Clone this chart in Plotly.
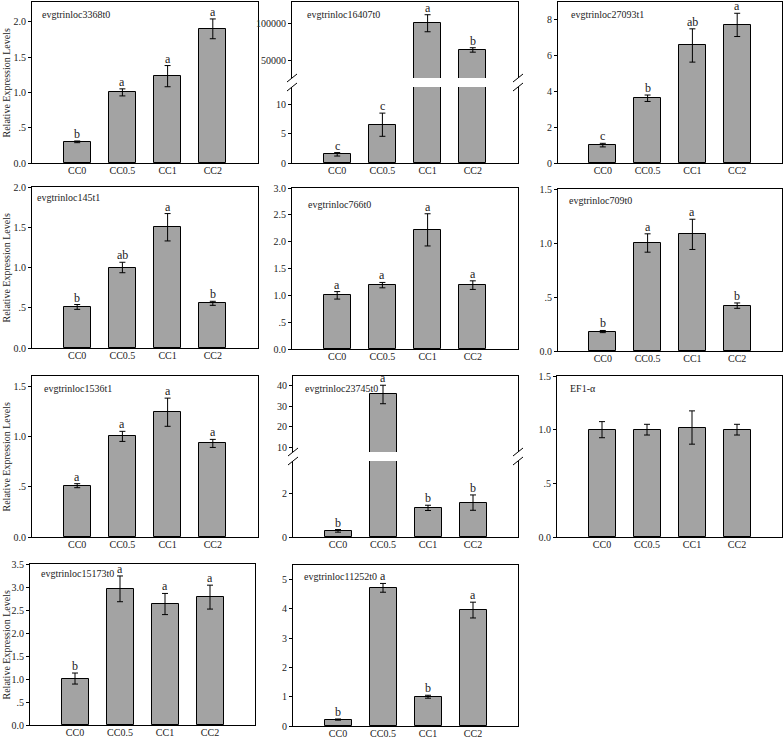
import plotly.graph_objects as go

# ---------------- data ----------------
categories = ["CC0", "CC0.5", "CC1", "CC2"]

gene_3368 = "evgtrinloc3368t0"
means_3368 = [0.30, 1.00, 1.23, 1.90]
errs_3368 = [0.012, 0.05, 0.15, 0.14]
letters_3368 = ["b", "a", "a", "a"]

gene_16407 = "evgtrinloc16407t0"
means_16407 = [1.5, 6.6, 101000, 64900]
errs_16407 = [0.3, 2.0, 11500, 3000]
letters_16407 = ["c", "c", "a", "b"]

gene_27093 = "evgtrinloc27093t1"
means_27093 = [1.0, 3.62, 6.57, 7.72]
errs_27093 = [0.1, 0.18, 0.93, 0.65]
letters_27093 = ["c", "b", "ab", "a"]

gene_145 = "evgtrinloc145t1"
means_145 = [0.51, 1.00, 1.50, 0.555]
errs_145 = [0.03, 0.065, 0.17, 0.025]
letters_145 = ["b", "ab", "a", "b"]

gene_766 = "evgtrinloc766t0"
means_766 = [1.00, 1.19, 2.22, 1.19]
errs_766 = [0.07, 0.05, 0.30, 0.08]
letters_766 = ["a", "a", "a", "a"]

gene_709 = "evgtrinloc709t0"
means_709 = [0.18, 1.00, 1.08, 0.42]
errs_709 = [0.01, 0.085, 0.14, 0.025]
letters_709 = ["b", "a", "a", "b"]

gene_1536 = "evgtrinloc1536t1"
means_1536 = [0.51, 1.00, 1.24, 0.93]
errs_1536 = [0.02, 0.05, 0.14, 0.04]
letters_1536 = ["a", "a", "a", "a"]

gene_23745 = "evgtrinloc23745t0"
means_23745 = [0.28, 35.8, 1.33, 1.57]
errs_23745 = [0.06, 4.5, 0.12, 0.35]
letters_23745 = ["b", "a", "b", "b"]

gene_ef1 = "EF1-α"
means_ef1 = [1.00, 1.00, 1.02, 1.00]
errs_ef1 = [0.075, 0.05, 0.155, 0.05]
letters_ef1 = ["", "", "", ""]

gene_15173 = "evgtrinloc15173t0"
means_15173 = [1.01, 2.96, 2.63, 2.78]
errs_15173 = [0.12, 0.28, 0.23, 0.26]
letters_15173 = ["b", "a", "a", "a"]

gene_11252 = "evgtrinloc11252t0"
means_11252 = [0.22, 4.72, 1.00, 3.96]
errs_11252 = [0.02, 0.15, 0.05, 0.27]
letters_11252 = ["b", "a", "b", "a"]

ylabel = "Relative Expression Levels"

# ---------------- layout config ----------------
W, H = 784, 740
FONT = "Liberation Serif"
BAR_COLOR = "#a3a3a3"
TEXT_COLOR = "#222222"

def fx(px):
    return px / W

def fy(py):
    return 1 - py / H

panels = [
    dict(g=gene_3368, m=means_3368, e=errs_3368, l=letters_3368, box=(32, 258, 2, 163), tpos=(40, 14),
         yr=[0, 2.28], tv=[0, 0.5, 1.0, 1.5, 2.0], tt=["0.0", ".5", "1.0", "1.5", "2.0"], ylab=True),
    dict(g=gene_16407, m=means_16407, e=errs_16407, l=letters_16407, box=(292, 518, 2, 163), tpos=(305, 14),
         broken=dict(split=(78, 87), lr=[0, 13.1], ltv=[0, 5, 10], ltt=["0", "5", "10"],
                     ur=[27000, 129700], utv=[50000, 100000], utt=["50000", "100000"])),
    dict(g=gene_27093, m=means_27093, e=errs_27093, l=letters_27093, box=(558, 782, 2, 163), tpos=(569, 14),
         yr=[0, 9.0], tv=[0, 2, 4, 6, 8], tt=["0", "2", "4", "6", "8"]),
    dict(g=gene_145, m=means_145, e=errs_145, l=letters_145, box=(32, 258, 187, 348), tpos=(35, 197),
         yr=[0, 2.0], tv=[0, 0.5, 1.0, 1.5, 2.0], tt=["0.0", ".5", "1.0", "1.5", "2.0"], ylab=True),
    dict(g=gene_766, m=means_766, e=errs_766, l=letters_766, box=(292, 518, 188, 349), tpos=(306, 204),
         yr=[0, 3.0], tv=[0, 0.5, 1.0, 1.5, 2.0, 2.5, 3.0], tt=["0.0", ".5", "1.0", "1.5", "2.0", "2.5", "3.0"]),
    dict(g=gene_709, m=means_709, e=errs_709, l=letters_709, box=(558, 782, 189, 351), tpos=(567, 200),
         yr=[0, 1.5], tv=[0, 0.5, 1.0, 1.5], tt=["0.0", ".5", "1.0", "1.5"]),
    dict(g=gene_1536, m=means_1536, e=errs_1536, l=letters_1536, box=(32, 258, 376, 537), tpos=(42, 388),
         yr=[0, 1.6], tv=[0, 0.5, 1.0, 1.5], tt=["0.0", ".5", "1.0", "1.5"], ylab=True),
    dict(g=gene_23745, m=means_23745, e=errs_23745, l=letters_23745, box=(293, 518, 376, 537), tpos=(303, 388),
         broken=dict(split=(452, 461), lr=[0, 3.47], ltv=[0, 2], ltt=["0", "2"],
                     ur=[7.8, 44.8], utv=[10, 20, 30, 40], utt=["10", "20", "30", "40"])),
    dict(g=gene_ef1, m=means_ef1, e=errs_ef1, l=letters_ef1, box=(557, 782, 376, 537), tpos=(568, 389),
         yr=[0, 1.5], tv=[0, 0.5, 1.0, 1.5], tt=["0.0", ".5", "1.0", "1.5"]),
    dict(g=gene_15173, m=means_15173, e=errs_15173, l=letters_15173, box=(30, 255, 564, 725), tpos=(39, 573),
         yr=[0, 3.5], tv=[0, 0.5, 1.0, 1.5, 2.0, 2.5, 3.0, 3.5],
         tt=["0.0", ".5", "1.0", "1.5", "2.0", "2.5", "3.0", "3.5"], ylab=True),
    dict(g=gene_11252, m=means_11252, e=errs_11252, l=letters_11252, box=(293, 518, 565, 726), tpos=(302, 576),
         yr=[0, 5.5], tv=[0, 1, 2, 3, 4, 5], tt=["0", "1", "2", "3", "4", "5"]),
]

fig = go.Figure()
layout = {}
annotations = []
shapes = []
axis_n = [0]

tickfont = dict(family=FONT, size=10, color=TEXT_COLOR)


def add_subplot(p, xdom, ydom, yr, tv, tt, xside, show_xlabels, mirror_x, letter_filter):
    axis_n[0] += 1
    n = axis_n[0]
    xa = "xaxis" if n == 1 else f"xaxis{n}"
    ya = "yaxis" if n == 1 else f"yaxis{n}"
    xr = "x" if n == 1 else f"x{n}"
    yrf = "y" if n == 1 else f"y{n}"
    layout[xa] = dict(domain=xdom, anchor=yrf, type="category", categoryorder="array",
                      categoryarray=categories, range=[-1, 4], side=xside, automargin=False,
                      showline=True, linecolor="black", linewidth=1, mirror=mirror_x,
                      ticks="", showticklabels=show_xlabels, tickfont=tickfont, ticklabelstandoff=-2,
                      showgrid=False, zeroline=False, fixedrange=True)
    layout[ya] = dict(domain=ydom, anchor=xr, range=yr, tickmode="array", tickvals=tv, ticktext=tt,
                      automargin=False,
                      showline=True, linecolor="black", linewidth=1, mirror=True,
                      ticks="outside", ticklen=3, tickcolor="black", tickfont=tickfont,
                      showgrid=False, zeroline=False, fixedrange=True)
    fig.add_trace(go.Bar(x=categories, y=p["m"], width=0.6,
                         marker=dict(color=BAR_COLOR, line=dict(color="black", width=1)),
                         error_y=dict(type="data", array=p["e"], color="black", thickness=1, width=3),
                         xaxis=xr, yaxis=yrf, showlegend=False, hoverinfo="skip"))
    for c, m, e, let in zip(categories, p["m"], p["e"], p["l"]):
        if let and letter_filter(m + e):
            annotations.append(dict(x=c, y=m + e, xref=xr, yref=yrf, text=let, showarrow=False,
                                    yanchor="bottom", yshift=-2,
                                    font=dict(family=FONT, size=12, color=TEXT_COLOR)))


for p in panels:
    x0, x1, top, bot = p["box"]
    xdom = [fx(x0), fx(x1)]
    if "broken" in p:
        b = p["broken"]
        s_up, s_lo = b["split"]
        lo_top = b["lr"][1]
        add_subplot(p, xdom, [fy(bot), fy(s_lo)], b["lr"], b["ltv"], b["ltt"], "bottom", True, False,
                    lambda v, t=lo_top: v <= t)
        add_subplot(p, xdom, [fy(s_up), fy(top)], b["ur"], b["utv"], b["utt"], "top", False, False,
                    lambda v, t=lo_top: v > t)
        for xe in (x0, x1):
            for yb in (s_up, s_lo):
                shapes.append(dict(type="line", xref="paper", yref="paper",
                                   x0=fx(xe - 5), y0=fy(yb + 4), x1=fx(xe + 5), y1=fy(yb - 4),
                                   line=dict(color="black", width=1)))
    else:
        add_subplot(p, xdom, [fy(bot), fy(top)], p["yr"], p["tv"], p["tt"], "bottom", True, True,
                    lambda v: True)
    tx, ty = p["tpos"]
    annotations.append(dict(x=fx(tx), y=fy(ty), xref="paper", yref="paper", text=p["g"], showarrow=False,
                            xanchor="left", yanchor="middle",
                            font=dict(family=FONT, size=10, color=TEXT_COLOR)))
    if p.get("ylab"):
        annotations.append(dict(x=fx(6), y=fy((top + bot) / 2), xref="paper", yref="paper", text=ylabel,
                                showarrow=False, textangle=-90, xanchor="center", yanchor="middle",
                                font=dict(family=FONT, size=10, color=TEXT_COLOR)))

fig.update_layout(**layout)
fig.update_layout(width=W, height=H, margin=dict(l=0, r=0, t=0, b=0, autoexpand=False),
                  paper_bgcolor="white", plot_bgcolor="white",
                  annotations=annotations, shapes=shapes, bargap=0, showlegend=False,
                  font=dict(family=FONT, color=TEXT_COLOR))

fig.write_html("out.html", config={"displayModeBar": False},
               post_script="document.body.style.margin='0px';document.body.style.overflow='hidden';")
